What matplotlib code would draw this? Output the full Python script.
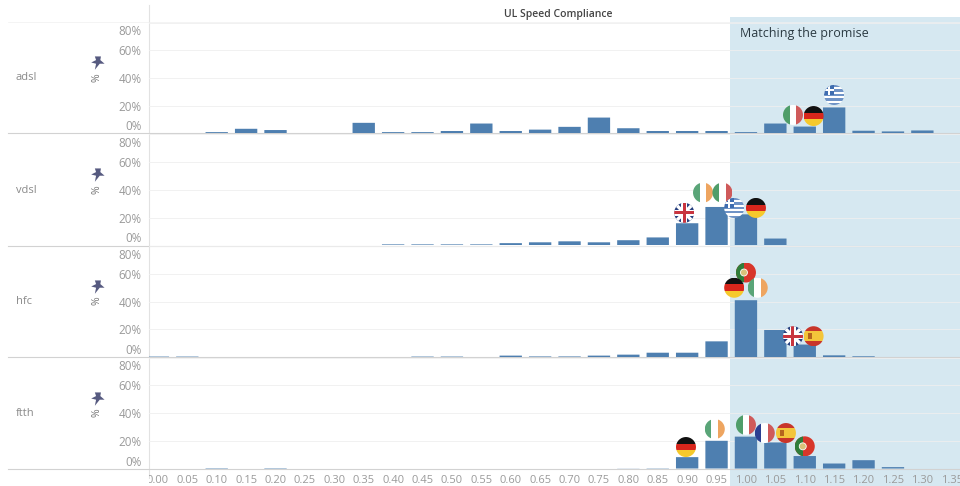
#!/usr/bin/env python

import matplotlib.pyplot as plt
from matplotlib.patches import Circle, Rectangle
from matplotlib.transforms import Affine2D, Bbox

plt.rcParams['font.family'] = ['Open Sans', 'DejaVu Sans']

techs = ['adsl', 'vdsl', 'hfc', 'ftth']
bins = [round(i * 0.05, 2) for i in range(28)]
y_ticks = [0, 20, 40, 60, 80]

adsl = [0, .3, 1, 3.4, 2.5, .3, .3, 7.7, 1, 1, 1.8, 7.2, 1.8, 2.8, 4.8, 11.5, 3.8,
        1.8, 1.8, 1.8, 1, 7.2, 5, 18.8, 2, 1.5, 2.2, .3]
vdsl = [0, 0, 0, 0, 0, 0, .3, .3, .8, .8, .8, .8, 1.7, 2.3, 3, 2.3, 3.8,
        5.8, 16, 27.7, 22.4, 5, .3, .3, .3, 0, 0, 0]
hfc = [.3, .3, 0, 0, 0, 0, 0, 0, 0, .3, .3, 0, 1, .4, .4, 1, 1.7,
       3.1, 3.1, 11.3, 41, 19.5, 9, 1.2, .5, 0, 0, 0]
ftth = [0, 0, .3, 0, .3, 0, 0, 0, 0, 0, 0, 0, 0, 0, 0, 0, .1,
        .2, 8.2, 20, 23, 18.8, 9, 3.6, 6, 1, 0, 0]
shares = [adsl, vdsl, hfc, ftth]

# (country, bin position, height in %)
flags_adsl = [('gr', 1.15, 27.8), ('it', 1.08, 13.4), ('de', 1.115, 12.6)]
flags_vdsl = [('uk', .895, 23.5), ('ie', .927, 38), ('it', .96, 38),
              ('gr', .98, 27), ('de', 1.017, 27)]
flags_hfc = [('pt', 1.0, 61), ('de', .98, 50), ('ie', 1.02, 50),
             ('uk', 1.08, 15), ('es', 1.115, 15)]
flags_ftth = [('de', .898, 15.5), ('ie', .947, 28.5), ('it', 1.0, 31.5),
              ('fr', 1.032, 25.6), ('es', 1.068, 25.6), ('pt', 1.10, 16)]
flags = [flags_adsl, flags_vdsl, flags_hfc, flags_ftth]

W, H = 960, 486
BLUE = '#4e7fb0'
GREY = '#9a9a9a'
baselines = [133.5, 245.5, 357, 468.5]
tops = [22, 133.5, 245.5, 357]
PLOT_L = 148.5

fig = plt.figure(figsize=(W / 100, H / 100), dpi=100)

# furniture in pixel coordinates
bg = fig.add_axes([0, 0, 1, 1], zorder=0)
bg.set_xlim(0, W)
bg.set_ylim(H, 0)
bg.axis('off')
bg.add_patch(Rectangle((730, 17), 230, H - 17, fc='#d6e8f1', ec='none'))
bg.plot([PLOT_L, PLOT_L], [5, 478], color='#e2e2e2', lw=0.8)
bg.plot([8, W], [22, 22], color='#f0f0f0', lw=0.5)

over = fig.add_axes([0, 0, 1, 1], zorder=3)
over.set_xlim(0, W)
over.set_ylim(H, 0)
over.axis('off')
over.patch.set_alpha(0)


def stripes(cx, cy, r, colors, vertical):
    out = []
    n = len(colors)
    for i, c in enumerate(colors):
        if vertical:
            out.append(Rectangle((cx - r + 2 * r * i / n, cy - r), 2 * r / n, 2 * r, fc=c, ec='none'))
        else:
            out.append(Rectangle((cx - r, cy - r + 2 * r * i / n), 2 * r, 2 * r / n, fc=c, ec='none'))
    return out


def draw_flag(code, cx, cy, r=10):
    clip = Circle((cx, cy), r, transform=over.transData)
    parts = []
    if code == 'it':
        parts = stripes(cx, cy, r, ['#4f9d69', '#ffffff', '#cf5a5a'], True)
    elif code == 'ie':
        parts = stripes(cx, cy, r, ['#5aa578', '#ffffff', '#eea560'], True)
    elif code == 'fr':
        parts = stripes(cx, cy, r, ['#2b3f91', '#ffffff', '#cf5a5a'], True)
    elif code == 'de':
        parts = stripes(cx, cy, r, ['#111111', '#d8261c', '#f6c92c'], False)
    elif code == 'es':
        parts = stripes(cx, cy, r, ['#c8352a', '#f3c53a', '#f3c53a', '#c8352a'], False)
        parts.append(Rectangle((cx - 6, cy - 3), 4, 6, fc='#b5651d', ec='none'))
    elif code == 'pt':
        parts = [Rectangle((cx - r, cy - r), 2 * r, 2 * r, fc='#d8362a', ec='none'),
                 Rectangle((cx - r, cy - r), 0.8 * r, 2 * r, fc='#2f7d3a', ec='none'),
                 Circle((cx - 2, cy), 3.5, fc='#d9c27a', ec='#ffffff', lw=0.6)]
    elif code == 'gr':
        parts = stripes(cx, cy, r, ['#6f93c6', '#ffffff'] * 4 + ['#6f93c6'], False)
        parts.append(Rectangle((cx - r, cy - r), r, r, fc='#3f6db0', ec='none'))
        parts.append(Rectangle((cx - r, cy - r / 2 - 1), r, 2, fc='#ffffff', ec='none'))
        parts.append(Rectangle((cx - r / 2 - 1, cy - r), 2, r, fc='#ffffff', ec='none'))
    elif code == 'uk':
        parts = [Rectangle((cx - r, cy - r), 2 * r, 2 * r, fc='#27407f', ec='none')]
        for sign in (1, -1):
            line = over.plot([cx - r, cx + r], [cy - sign * r, cy + sign * r], color='#ffffff', lw=2.4)[0]
            line.set_clip_path(clip)
        parts.append(Rectangle((cx - r, cy - 3), 2 * r, 6, fc='#ffffff', ec='none', zorder=3))
        parts.append(Rectangle((cx - 3, cy - r), 6, 2 * r, fc='#ffffff', ec='none', zorder=3))
        parts.append(Rectangle((cx - r, cy - 1.5), 2 * r, 3, fc='#c8353f', ec='none', zorder=3))
        parts.append(Rectangle((cx - 1.5, cy - r), 3, 2 * r, fc='#c8353f', ec='none', zorder=3))
    for p in parts:
        over.add_patch(p)
        p.set_clip_path(clip)


pin = [(-3, 5), (2, 5), (1.5, 2), (5, -1), (1, -1), (-3, -6), (-2, -1), (-6, 0), (-2, 2)]

for i, tech in enumerate(techs):
    top, base = tops[i], baselines[i]
    ax = fig.add_axes([PLOT_L / W, 1 - base / H, (W - PLOT_L) / W, (base - top) / H], zorder=1)
    ax.patch.set_alpha(0)
    ax.bar(bins, shares[i], width=0.038, color=BLUE, zorder=3, snap=False)
    ax.set_xlim(-0.016, 1.364)
    ax.set_ylim(0, 80.5)
    ax.set_yticks(y_ticks)
    ax.set_yticklabels(['%d%%' % v for v in y_ticks])
    ax.grid(axis='y', color='#efefef', lw=0.6, zorder=0)
    ax.set_axisbelow(True)
    for s in ('top', 'left', 'right', 'bottom'):
        ax.spines[s].set_visible(False)
    ax.tick_params(axis='y', length=0, labelsize=8.4, labelcolor=GREY, pad=5)
    labels = ax.get_yticklabels()
    labels[0].set_va('bottom')
    labels[-1].set_va('top')
    labels[-1].set_transform(labels[-1].get_transform() + Affine2D().translate(0, -2.5))
    ax.set_xticks(bins)
    if i == 3:
        ax.set_xticklabels(['%.2f' % b for b in bins])
        ax.tick_params(axis='x', length=0, labelsize=8, labelcolor=GREY, pad=5)
        # the first label is cut by the axis line
        ax.get_xticklabels()[0].set_clip_box(Bbox([[PLOT_L, 0], [W, H]]))
        ax.get_xticklabels()[0].set_clip_on(True)
    else:
        ax.tick_params(axis='x', length=0, labelbottom=False)

    bg.plot([8, W], [base, base], color='#d2d2d2', lw=0.8)
    over.text(16, base - 55.5, tech, fontsize=8, color='#8a8a8a', va='center', ha='left')
    over.text(97.5, base - 56, '%', fontsize=7.5, color='#777777', rotation=90, va='center', ha='center')
    over.scatter([97.5], [base - 71], marker=pin, s=110, color='#565a80', linewidths=0)

    for code, b, pct in flags[i]:
        disp = ax.transData.transform((b, pct))
        cx, cy = over.transData.inverted().transform(disp)
        draw_flag(code, cx, cy)

over.text(558, 14, 'UL Speed Compliance', fontsize=7.5, color='#444444', ha='center', va='center', fontweight='semibold')
over.text(740, 33.5, 'Matching the promise', fontsize=9, color='#2b3a42', ha='left', va='center')

fig.savefig('out.png', dpi=100)
